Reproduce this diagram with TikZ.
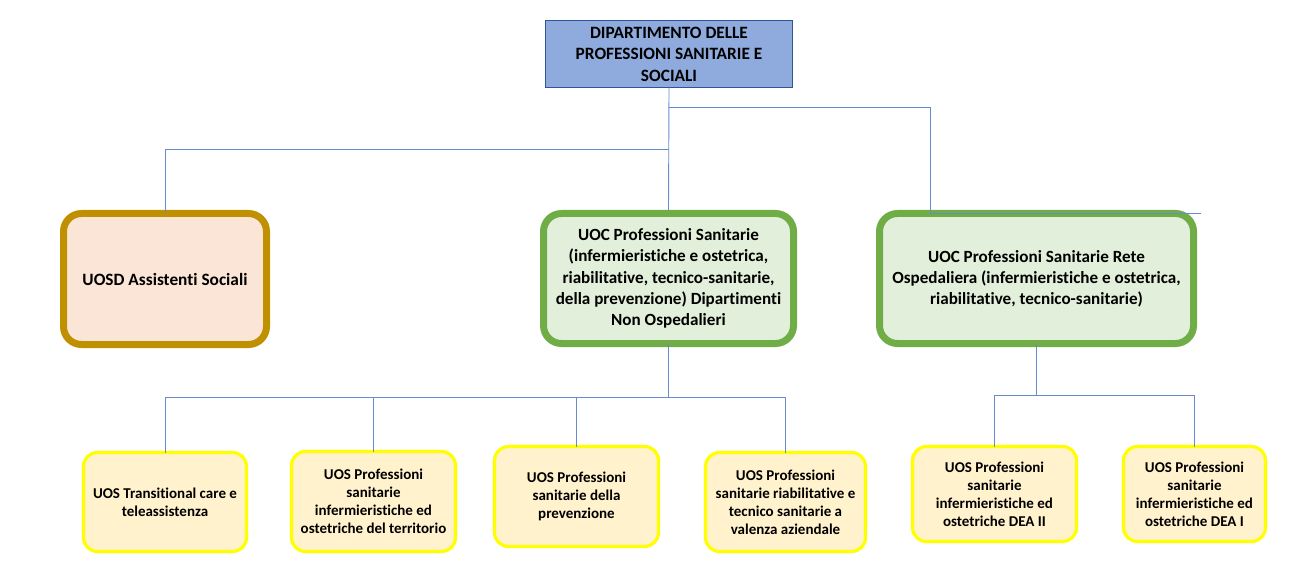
\documentclass[tikz,border=0pt]{standalone}
\usepackage{fontspec}
\setmainfont{Carlito}[Ligatures=NoCommon]
\definecolor{topfill}{HTML}{8FAADC}
\definecolor{topdraw}{HTML}{2F5597}
\definecolor{goldb}{HTML}{BF9000}
\definecolor{peach}{HTML}{FBE5D6}
\definecolor{greenb}{HTML}{70AD47}
\definecolor{greenf}{HTML}{E2EFDA}
\definecolor{yelb}{HTML}{FFFF00}
\definecolor{yelf}{HTML}{FFF2CC}
\definecolor{connc}{HTML}{6A8BCB}
\tikzset{
  topbox/.style={draw=topdraw, fill=topfill, line width=0.8pt, align=center, inner sep=0pt,
    font=\bfseries\fontsize{17.3}{21.5}\selectfont},
  goldbox/.style={draw=goldb, fill=peach, line width=7pt, rounded corners=18pt, align=center, inner sep=0pt,
    font=\bfseries\fontsize{17.3}{21}\selectfont},
  greenbox/.style={draw=greenb, fill=greenf, line width=7pt, rounded corners=18pt, align=center, inner sep=0pt,
    font=\bfseries\fontsize{17.1}{21.2}\selectfont},
  yelbox/.style={draw=yelb, fill=yelf, line width=3.2pt, rounded corners=14pt, align=center, inner sep=0pt,
    font=\bfseries\fontsize{15}{18}\selectfont},
  conn/.style={draw=connc, line width=0.9pt}
}
\begin{document}
\begin{tikzpicture}[x=1pt,y=-1pt]
\useasboundingbox (0,0) rectangle (1300,569);
% nodes
\node[topbox, minimum width=247pt, minimum height=67pt] (top) at (669,54)
  {DIPARTIMENTO DELLE\\PROFESSIONI SANITARIE E\\SOCIALI};
\node[goldbox, minimum width=203pt, minimum height=131pt] (left) at (165,279)
  {UOSD Assistenti Sociali};
\node[greenbox, minimum width=250pt, minimum height=130pt] (mid) at (668.5,278.5)
  {UOC Professioni Sanitarie\\(infermieristiche e ostetrica,\\riabilitative, tecnico-sanitarie,\\della prevenzione) Dipartimenti\\Non Ospedalieri};
\node[greenbox, minimum width=314pt, minimum height=130pt] (right) at (1036.5,278.5)
  {UOC Professioni Sanitarie Rete\\Ospedaliera (infermieristiche e ostetrica,\\riabilitative, tecnico-sanitarie)};
\node[yelbox, minimum width=163pt, minimum height=99pt] (b1) at (165,502)
  {UOS Transitional care e\\teleassistenza};
\node[yelbox, minimum width=164pt, minimum height=100pt] (b2) at (373.5,501.5)
  {UOS Professioni\\sanitarie\\infermieristiche ed\\ostetriche del territorio};
\node[yelbox, minimum width=164pt, minimum height=100pt] (b3) at (576.5,496.5)
  {UOS Professioni\\sanitarie della\\prevenzione};
\node[yelbox, minimum width=160pt, minimum height=99pt] (b4) at (785.5,502)
  {UOS Professioni\\sanitarie riabilitative e\\tecnico sanitarie a\\valenza aziendale};
\node[yelbox, minimum width=164pt, minimum height=95pt] (b5) at (994.5,494)
  {UOS Professioni\\sanitarie\\infermieristiche ed\\ostetriche DEA II};
\node[yelbox, minimum width=142pt, minimum height=95pt] (b6) at (1194.5,494)
  {UOS Professioni\\sanitarie\\infermieristiche ed\\ostetriche DEA I};
% connectors top level
\draw[conn] (top.south) -- (mid.north);
\draw[conn] (top.south |- 0,107) -| ([xshift=-106.5pt,yshift=-3.5pt]right.north);
\draw[conn] ([xshift=-106.5pt,yshift=-3.5pt]right.north) -- ([xshift=3.5pt,yshift=-3.5pt]right.north east);
\draw[conn] (top.south |- 0,149) -| ([yshift=-3.5pt]left.north);
% middle children
\foreach \b in {b1,b2,b3,b4}{
  \draw[conn] ([yshift=3.5pt]mid.south) -- (mid.south |- 0,397) -| ([yshift=-1.6pt]\b.north);
}
% right children
\foreach \b in {b5,b6}{
  \draw[conn] ([yshift=3.5pt]right.south) -- (right.south |- 0,395) -| ([yshift=-1.6pt]\b.north);
}
\end{tikzpicture}
\end{document}
